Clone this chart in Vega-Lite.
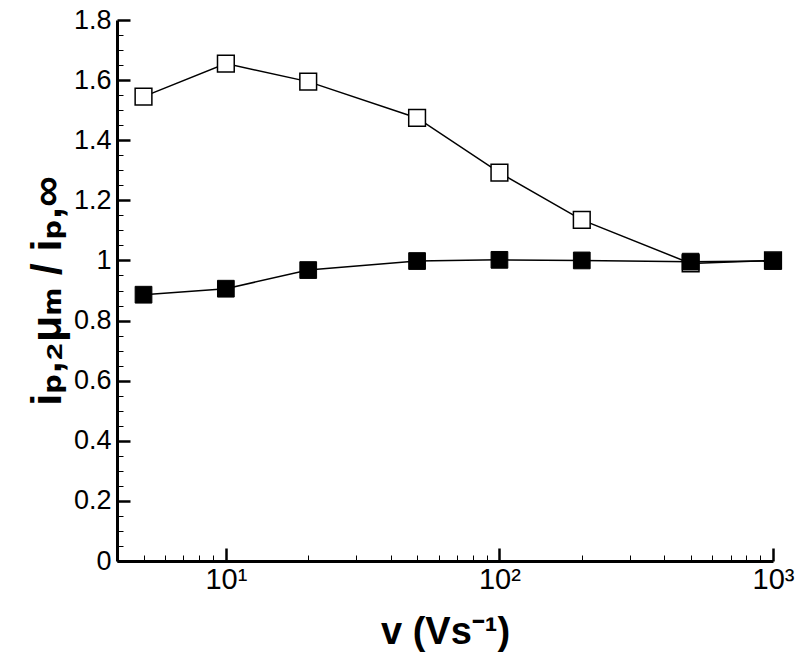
{
  "$schema": "https://vega.github.io/schema/vega-lite/v6.json",
  "width": 656,
  "height": 541,
  "autosize": {"type": "none"},
  "padding": {"left": 117, "top": 20, "right": 27, "bottom": 102},
  "background": "white",
  "config": {"view": {"stroke": null}, "font": "Liberation Sans"},
  "data": {"values": [
    {"v": 5, "r": 1.545, "s": "open"},
    {"v": 10, "r": 1.655, "s": "open"},
    {"v": 20, "r": 1.595, "s": "open"},
    {"v": 50, "r": 1.474, "s": "open"},
    {"v": 100, "r": 1.292, "s": "open"},
    {"v": 200, "r": 1.135, "s": "open"},
    {"v": 500, "r": 0.99, "s": "open"},
    {"v": 1000, "r": 1.0, "s": "open"},
    {"v": 5, "r": 0.886, "s": "filled"},
    {"v": 10, "r": 0.906, "s": "filled"},
    {"v": 20, "r": 0.968, "s": "filled"},
    {"v": 50, "r": 0.998, "s": "filled"},
    {"v": 100, "r": 1.002, "s": "filled"},
    {"v": 200, "r": 1.0, "s": "filled"},
    {"v": 500, "r": 0.996, "s": "filled"},
    {"v": 1000, "r": 0.998, "s": "filled"}
  ]},
  "encoding": {
    "x": {
      "field": "v", "type": "quantitative",
      "scale": {"type": "log", "domain": [4, 1000], "nice": false},
      "axis": {
        "title": "v (Vs⁻¹)",
        "titleFont": "Liberation Sans", "titleFontSize": 38, "titleFontWeight": "bold", "titleColor": "black",
        "titlePadding": 12,
        "values": [4,5,6,7,8,9,10,20,30,40,50,60,70,80,90,100,200,300,400,500,600,700,800,900,1000],
        "labelExpr": "datum.value == 10 ? '10¹' : datum.value == 100 ? '10²' : datum.value == 1000 ? '10³' : ''",
        "labelFont": "Liberation Sans Narrow, Liberation Sans", "labelFontSize": 29, "labelColor": "black",
        "labelPadding": 17, "labelFlush": false, "labelOverlap": false,
        "grid": false,
        "domainColor": "black", "domainWidth": 3,
        "tickColor": "black",
        "tickSize": {"condition": {"test": "datum.value==10||datum.value==100||datum.value==1000", "value": -13}, "value": -6},
        "tickWidth": {"condition": {"test": "datum.value==10||datum.value==100||datum.value==1000", "value": 2.5}, "value": 1}
      }
    },
    "y": {
      "field": "r", "type": "quantitative",
      "scale": {"domain": [0, 1.8], "nice": false, "zero": false},
      "axis": {
        "title": "iₚ,₂μₘ / iₚ,∞",
        "titleFont": "Liberation Sans, DejaVu Sans", "titleFontSize": 43, "titleFontWeight": "bold", "titleColor": "black",
        "titlePadding": 4,
        "values": [0,0.05,0.1,0.15,0.2,0.25,0.3,0.35,0.4,0.45,0.5,0.55,0.6,0.65,0.7,0.75,0.8,0.85,0.9,0.95,1,1.05,1.1,1.15,1.2,1.25,1.3,1.35,1.4,1.45,1.5,1.55,1.6,1.65,1.7,1.75,1.8],
        "labelExpr": "abs(datum.value*5 - round(datum.value*5)) < 0.001 ? format(datum.value, '.1~f') : ''",
        "labelFont": "Liberation Sans", "labelFontSize": 27, "labelColor": "black",
        "labelPadding": 19, "labelFlush": false, "labelOverlap": false,
        "grid": false,
        "domainColor": "black", "domainWidth": 3,
        "tickColor": "black",
        "tickSize": {"condition": {"test": "abs(datum.value*5 - round(datum.value*5)) < 0.001", "value": -13}, "value": -6},
        "tickWidth": {"condition": {"test": "abs(datum.value*5 - round(datum.value*5)) < 0.001", "value": 2.5}, "value": 1}
      }
    }
  },
  "layer": [
    {
      "mark": {"type": "line", "color": "black", "strokeWidth": 1.5},
      "encoding": {"detail": {"field": "s"}}
    },
    {
      "transform": [{"filter": "datum.s == 'open'"}],
      "mark": {"type": "point", "shape": "square", "size": 280, "filled": true, "fill": "white", "stroke": "black", "strokeWidth": 1.5, "opacity": 1}
    },
    {
      "transform": [{"filter": "datum.s == 'filled'"}],
      "mark": {"type": "point", "shape": "square", "size": 280, "filled": true, "fill": "black", "stroke": "black", "strokeWidth": 1, "opacity": 1}
    }
  ]
}
